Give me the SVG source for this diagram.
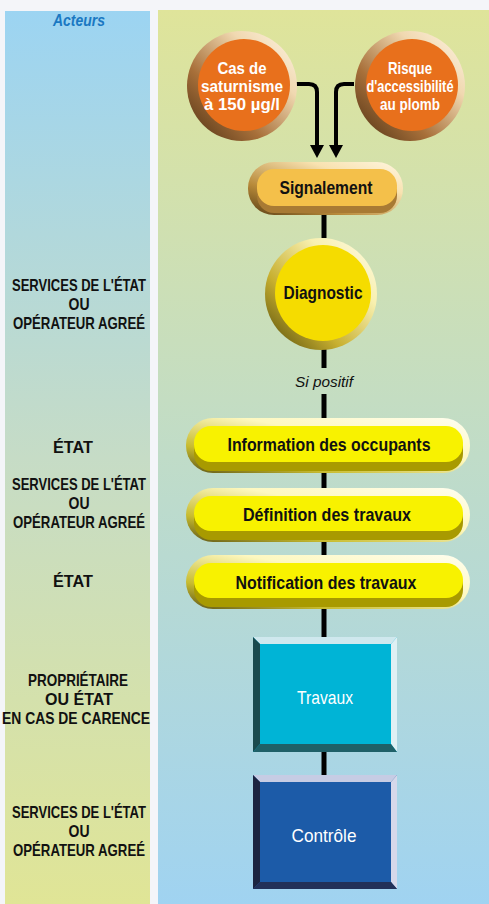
<svg xmlns="http://www.w3.org/2000/svg" width="489" height="904" viewBox="0 0 489 904">
<style>
.lbl{font-family:"Liberation Sans Narrow","Liberation Sans",Arial,sans-serif;font-weight:bold;font-size:16.5px;fill:#111;text-anchor:middle}
.nt{font-family:"Liberation Sans Narrow","Liberation Sans",Arial,sans-serif;font-weight:bold;font-size:19px;fill:#111;text-anchor:middle}
.ct{font-family:"Liberation Sans Narrow","Liberation Sans",Arial,sans-serif;font-weight:bold;font-size:17px;fill:#fff;text-anchor:middle}
.bt{font-family:"Liberation Sans Narrow","Liberation Sans",Arial,sans-serif;font-size:19px;fill:#fff;text-anchor:middle}
.conn{stroke:#000;stroke-width:5;fill:none}
.arr{stroke:#000;stroke-width:4;fill:none;marker-end:url(#ah)}
</style>
<defs>
<linearGradient id="leftCol" x1="0" y1="0" x2="0" y2="1">
<stop offset="0" stop-color="#9cd4f2"/><stop offset="0.5" stop-color="#c6dcc6"/><stop offset="1" stop-color="#e0e596"/>
</linearGradient>
<linearGradient id="rightCol" x1="0" y1="0" x2="0" y2="1">
<stop offset="0" stop-color="#dfe49a"/><stop offset="0.5" stop-color="#c0dcc8"/><stop offset="1" stop-color="#a0d3f1"/>
</linearGradient>
<linearGradient id="ringO" x1="0" y1="1" x2="1" y2="0">
<stop offset="0" stop-color="#4a2e12"/><stop offset="0.35" stop-color="#a8703a"/><stop offset="0.7" stop-color="#f0d8b0"/><stop offset="1" stop-color="#fff6e6"/>
</linearGradient>
<linearGradient id="ringS" x1="0" y1="1" x2="1" y2="0">
<stop offset="0" stop-color="#5a3e14"/><stop offset="0.3" stop-color="#b88a3a"/><stop offset="0.7" stop-color="#f8e2b0"/><stop offset="1" stop-color="#fff6e0"/>
</linearGradient>
<linearGradient id="ringD" x1="0" y1="1" x2="1" y2="0">
<stop offset="0" stop-color="#4e4608"/><stop offset="0.35" stop-color="#c8b030"/><stop offset="0.7" stop-color="#f8f0b0"/><stop offset="1" stop-color="#fffbe6"/>
</linearGradient>
<linearGradient id="ringY" x1="0" y1="1" x2="1" y2="0">
<stop offset="0" stop-color="#5e5616"/><stop offset="0.25" stop-color="#c8bc30"/><stop offset="0.6" stop-color="#fdf8c0"/><stop offset="1" stop-color="#fffef0"/>
</linearGradient>
<marker id="ah" viewBox="0 0 13 14" refX="0" refY="7" markerWidth="13" markerHeight="14" markerUnits="userSpaceOnUse" orient="auto">
<path d="M0,0 L13,7 L0,14 z" fill="#000"/>
</marker>
</defs>

<rect width="489" height="904" fill="#f4f5f9"/>
<rect x="5" y="11" width="145" height="893" fill="url(#leftCol)"/>
<rect x="158" y="10" width="331" height="894" fill="url(#rightCol)"/>

<g id="actors">
<text x="79" y="26" font-family="Liberation Sans Narrow,Liberation Sans,Arial,sans-serif" font-weight="bold" font-style="italic" font-size="17" fill="#1a78c2" text-anchor="middle" textLength="52" lengthAdjust="spacingAndGlyphs">Acteurs</text>
<text class="lbl" x="79" y="291" textLength="134" lengthAdjust="spacingAndGlyphs">SERVICES DE L'ÉTAT</text>
<text class="lbl" x="79" y="310" textLength="21" lengthAdjust="spacingAndGlyphs">OU</text>
<text class="lbl" x="79" y="329" textLength="132" lengthAdjust="spacingAndGlyphs">OPÉRATEUR AGREÉ</text>
<text class="lbl" x="73" y="453" textLength="40" lengthAdjust="spacingAndGlyphs">ÉTAT</text>
<text class="lbl" x="79" y="490" textLength="134" lengthAdjust="spacingAndGlyphs">SERVICES DE L'ÉTAT</text>
<text class="lbl" x="79" y="509" textLength="21" lengthAdjust="spacingAndGlyphs">OU</text>
<text class="lbl" x="79" y="528" textLength="132" lengthAdjust="spacingAndGlyphs">OPÉRATEUR AGREÉ</text>
<text class="lbl" x="73" y="587" textLength="40" lengthAdjust="spacingAndGlyphs">ÉTAT</text>
<text class="lbl" x="78" y="686" textLength="100" lengthAdjust="spacingAndGlyphs">PROPRIÉTAIRE</text>
<text class="lbl" x="79" y="705" textLength="68" lengthAdjust="spacingAndGlyphs">OU ÉTAT</text>
<text class="lbl" x="76" y="724" textLength="148" lengthAdjust="spacingAndGlyphs">EN CAS DE CARENCE</text>
<text class="lbl" x="79" y="818" textLength="134" lengthAdjust="spacingAndGlyphs">SERVICES DE L'ÉTAT</text>
<text class="lbl" x="79" y="837" textLength="21" lengthAdjust="spacingAndGlyphs">OU</text>
<text class="lbl" x="79" y="856" textLength="132" lengthAdjust="spacingAndGlyphs">OPÉRATEUR AGREÉ</text>
</g>

<g id="connectors">
<path class="arr" d="M296 84 H309 Q317 84 317 92 V145"/>
<path class="arr" d="M354 84 H344 Q336 84 336 92 V145"/>
<line class="conn" x1="324" y1="214" x2="324" y2="238"/>
<line class="conn" x1="324" y1="349" x2="324" y2="368"/>
<line class="conn" x1="324" y1="394" x2="324" y2="419"/>
<line class="conn" x1="324" y1="472" x2="324" y2="489"/>
<line class="conn" x1="324" y1="541" x2="324" y2="556"/>
<line class="conn" x1="324" y1="607" x2="324" y2="638"/>
<line class="conn" x1="324" y1="751" x2="324" y2="776"/>
<text x="324" y="387" font-family="Liberation Sans Narrow,Liberation Sans,Arial,sans-serif" font-style="italic" font-size="15" fill="#111" text-anchor="middle" textLength="58" lengthAdjust="spacingAndGlyphs">Si positif</text>
</g>

<g id="saturnisme">
<circle cx="242" cy="86" r="55" fill="url(#ringO)"/>
<circle cx="244" cy="85" r="46" fill="#e8701c"/>
<text class="ct" x="242" y="74" textLength="49" lengthAdjust="spacingAndGlyphs">Cas de</text>
<text class="ct" x="242" y="92" textLength="82" lengthAdjust="spacingAndGlyphs">saturnisme</text>
<text class="ct" x="242" y="110" textLength="76" lengthAdjust="spacingAndGlyphs">à 150 µg/l</text>
</g>

<g id="risque">
<circle cx="410" cy="86" r="55" fill="url(#ringO)"/>
<circle cx="412" cy="85" r="46" fill="#e8701c"/>
<text class="ct" x="410" y="74" textLength="44" lengthAdjust="spacingAndGlyphs">Risque</text>
<text class="ct" x="410" y="92" textLength="87" lengthAdjust="spacingAndGlyphs">d'accessibilité</text>
<text class="ct" x="410" y="110" textLength="60" lengthAdjust="spacingAndGlyphs">au plomb</text>
</g>

<g id="signalement">
<rect x="248" y="162" width="155" height="53" rx="26" fill="url(#ringS)"/>
<rect x="257" y="173" width="140" height="40" rx="17" fill="#a87a34"/>
<rect x="257" y="169" width="140" height="37" rx="17" fill="#f4c04a"/>
<text class="nt" x="326" y="194" textLength="93" lengthAdjust="spacingAndGlyphs">Signalement</text>
</g>

<g id="diagnostic">
<circle cx="321" cy="294" r="56" fill="url(#ringD)"/>
<circle cx="323" cy="293" r="48" fill="#f5dc00"/>
<text class="nt" x="323" y="299" textLength="79" lengthAdjust="spacingAndGlyphs">Diagnostic</text>
</g>

<g id="information">
<rect x="186" y="418" width="284" height="55" rx="27" fill="url(#ringY)"/>
<rect x="194" y="430" width="269" height="41" rx="17" fill="#a89a00"/>
<rect x="194" y="426" width="269" height="36" rx="17" fill="#f8f200"/>
<text class="nt" x="329" y="451" textLength="203" lengthAdjust="spacingAndGlyphs">Information des occupants</text>
</g>

<g id="definition">
<rect x="186" y="488" width="284" height="54" rx="27" fill="url(#ringY)"/>
<rect x="194" y="500" width="269" height="40" rx="17" fill="#a89a00"/>
<rect x="194" y="496" width="269" height="35" rx="17" fill="#f8f200"/>
<text class="nt" x="327" y="521" textLength="168" lengthAdjust="spacingAndGlyphs">Définition des travaux</text>
</g>

<g id="notification">
<rect x="186" y="555" width="284" height="54" rx="27" fill="url(#ringY)"/>
<rect x="194" y="567" width="269" height="40" rx="17" fill="#a89a00"/>
<rect x="194" y="563" width="269" height="35" rx="17" fill="#f8f200"/>
<text class="nt" x="326" y="589" textLength="181" lengthAdjust="spacingAndGlyphs">Notification des travaux</text>
</g>

<g id="travaux">
<rect x="253" y="637" width="144" height="115" fill="#00b4d6"/>
<polygon points="253,637 397,637 391,644 260,644" fill="#cfe8ee"/>
<polygon points="397,637 397,752 391,744 391,644" fill="#dff0f4"/>
<polygon points="253,637 260,644 260,744 253,752" fill="#1a4a4e"/>
<polygon points="253,752 260,744 391,744 397,752" fill="#1f6068"/>
<text class="bt" x="325" y="704" textLength="56" lengthAdjust="spacingAndGlyphs">Travaux</text>
</g>

<g id="controle">
<rect x="253" y="775" width="144" height="114" fill="#1c5ba8"/>
<polygon points="253,775 397,775 391,782 260,782" fill="#c6cce4"/>
<polygon points="397,775 397,889 391,882 391,782" fill="#d6d8ea"/>
<polygon points="253,775 260,782 260,882 253,889" fill="#1c2440"/>
<polygon points="253,889 260,882 391,882 397,889" fill="#223058"/>
<text class="bt" x="324" y="842" textLength="65" lengthAdjust="spacingAndGlyphs">Contrôle</text>
</g>
</svg>
